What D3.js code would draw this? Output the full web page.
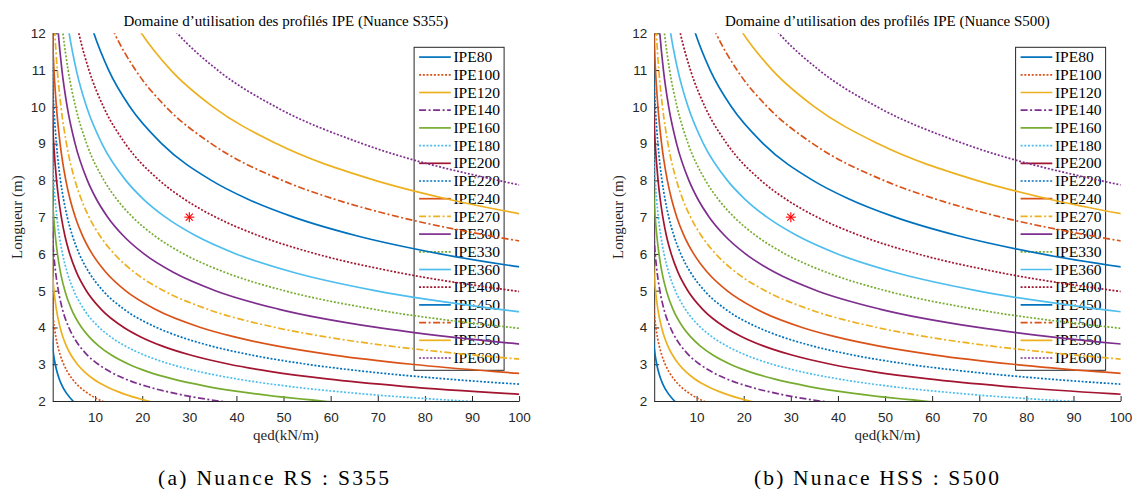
<!DOCTYPE html>
<html><head><meta charset="utf-8">
<script src="https://cdn.jsdelivr.net/npm/d3@7"></script>
<style>body{margin:0;background:#fff} svg{display:block}</style>
</head><body>
<svg id="c" width="1132" height="489"></svg>
<script>
// ---- data (both panels show the same curves) ----
const lengths = [1.9, 2, 2.2, 2.4, 2.6, 2.8, 3, 3.25, 3.5, 3.75, 4, 4.5, 5, 5.5, 6, 6.5, 7, 7.5, 8, 9, 10, 11, 12, 12.5];
const profiles = ["IPE80","IPE100","IPE120","IPE140","IPE160","IPE180","IPE200","IPE220","IPE240","IPE270","IPE300","IPE330","IPE360","IPE400","IPE450","IPE500","IPE550","IPE600"];
// q (kN/m) at which each profile reaches the length in `lengths`
const qIPE80  = [6.22, 5.32, 3.99, 3.06, 2.39, 1.90, 1.54, 1.20, 0.95, 0.76, null, null, null, null, null, null, null, null, null, null, null, null, null, null];
const qIPE100 = [13.32, 11.41, 8.55, 6.57, 5.15, 4.11, 3.33, 2.60, 2.07, 1.66, 1.36, 0.93, 0.66, null, null, null, null, null, null, null, null, null, null, null];
const qIPE120 = [24.82, 21.27, 15.95, 12.27, 9.62, 7.69, 6.23, 4.88, 3.89, 3.14, 2.57, 1.77, 1.27, 0.93, 0.69, null, null, null, null, null, null, null, null, null];
const qIPE140 = [42.28, 36.23, 27.19, 20.91, 16.42, 13.12, 10.65, 8.35, 6.66, 5.39, 4.42, 3.06, 2.20, 1.62, 1.22, 0.93, 0.72, null, null, null, null, null, null, null];
const qIPE160 = [67.96, 58.24, 43.72, 33.64, 26.43, 21.13, 17.15, 13.45, 10.74, 8.70, 7.14, 4.97, 3.58, 2.65, 2.01, 1.55, 1.21, 0.95, 0.76, null, null, null, null, null];
const qIPE180 = [103.0, 88.32, 66.31, 51.03, 40.10, 32.07, 26.04, 20.44, 16.33, 13.24, 10.88, 7.59, 5.48, 4.07, 3.09, 2.39, 1.88, 1.49, 1.20, 0.79, null, null, null, null];
const qIPE200 = [152.1, 130.35, 97.88, 75.34, 59.21, 47.36, 38.47, 30.21, 24.14, 19.59, 16.10, 11.24, 8.14, 6.06, 4.62, 3.58, 2.83, 2.26, 1.82, 1.21, 0.82, 0.56, null, null];
const qIPE220 = [217.0, 186.02, 139.7, 107.54, 84.53, 67.63, 54.94, 43.16, 34.50, 28.00, 23.03, 16.10, 11.67, 8.70, 6.64, 5.17, 4.09, 3.28, 2.65, 1.79, 1.23, 0.86, 0.61, null];
const qIPE240 = [304.7, 261.2, 196.2, 151.06, 118.75, 95.01, 77.19, 60.65, 48.50, 39.38, 32.39, 22.66, 16.44, 12.28, 9.39, 7.32, 5.80, 4.66, 3.79, 2.57, 1.79, 1.27, 0.91, 0.77];
const qIPE270 = [null, null, null, null, 176.7, 141.4, 114.93, 90.32, 72.25, 58.67, 48.28, 33.80, 24.55, 18.35, 14.06, 10.98, 8.72, 7.02, 5.72, 3.92, 2.76, 1.98, 1.45, 1.24];
const qIPE300 = [null, null, null, null, null, null, 166.0, 130.45, 104.36, 84.77, 69.78, 48.88, 35.52, 26.59, 20.38, 15.94, 12.68, 10.23, 8.36, 5.75, 4.08, 2.96, 2.19, 1.89];
const qIPE330 = [null, null, null, null, null, null, null, 183.8, 147.1, 119.5, 98.39, 68.96, 50.14, 37.55, 28.81, 22.56, 17.97, 14.52, 11.88, 8.20, 5.85, 4.27, 3.18, 2.76];
const qIPE360 = [null, null, null, null, null, null, null, null, 203.4, 165.3, 136.1, 95.43, 69.41, 52.01, 39.93, 31.29, 24.94, 20.17, 16.52, 11.44, 8.19, 6.01, 4.50, 3.92];
const qIPE400 = [null, null, null, null, null, null, null, null, null, null, 193.6, 135.8, 98.83, 74.09, 56.92, 44.63, 35.60, 28.82, 23.64, 16.41, 11.78, 8.69, 6.55, 5.72];
const qIPE450 = [null, null, null, null, null, null, null, null, null, null, null, 198.3, 144.3, 108.26, 83.22, 65.29, 52.12, 42.23, 34.67, 24.12, 17.38, 12.87, 9.74, 8.53];
const qIPE500 = [null, null, null, null, null, null, null, null, null, null, null, null, 206.4, 154.9, 119.1, 93.47, 74.66, 60.53, 49.72, 34.66, 25.02, 18.58, 14.11, 12.38];
const qIPE550 = [null, null, null, null, null, null, null, null, null, null, null, null, null, 215.8, 166.0, 130.35, 104.16, 84.49, 69.44, 48.46, 35.04, 26.07, 19.84, 17.44];
const qIPE600 = [null, null, null, null, null, null, null, null, null, null, null, null, null, null, 228.0, 179.1, 143.1, 116.1, 95.49, 66.71, 48.31, 35.99, 27.45, 24.15];
const seriesQ = [qIPE80,qIPE100,qIPE120,qIPE140,qIPE160,qIPE180,qIPE200,qIPE220,qIPE240,qIPE270,qIPE300,qIPE330,qIPE360,qIPE400,qIPE450,qIPE500,qIPE550,qIPE600];
const pointQ = [30];
const pointL = [7];
const xTicks = [10, 20, 30, 40, 50, 60, 70, 80, 90, 100];
const yTicks = [2, 3, 4, 5, 6, 7, 8, 9, 10, 11, 12];
const titles = ["Domaine d’utilisation des profilés IPE (Nuance S355)", "Domaine d’utilisation des profilés IPE (Nuance S500)"];
const captions = ["(a) Nuance RS : S355", "(b) Nunace HSS : S500"];
const xLabel = "qed(kN/m)";
const yLabel = "Longueur (m)";

// ---- styles ----
const colors = ["#0072BD","#D95319","#EDB120","#7E2F8E","#77AC30","#4DBEEE","#A2142F","#0072BD","#D95319","#EDB120","#7E2F8E","#77AC30","#4DBEEE","#A2142F","#0072BD","#D95319","#EDB120","#7E2F8E"];
const DOT = "2,1.7", DD = "7,2.5,2,2.5";
const dashes = [null, DOT, null, DD, null, DOT, null, DOT, null, DD, null, DOT, null, DOT, null, DD, null, DOT];
const SERIF = "'Liberation Serif','Times New Roman',serif";
const SANS = "'Liberation Sans',Arial,sans-serif";
const AX = "#262626";

const svg = d3.select("#c");
const lefts = [52.7, 654.2];
const topY = 33.3, W = 466.4, H = 367.7;
const capX = [158, 754], capW = [231, 245];

lefts.forEach((left, pi) => {
  const g = svg.append("g").attr("transform", `translate(${left},${topY})`);
  const x = d3.scaleLinear().domain([1, 100]).range([0, W]);
  const y = d3.scaleLinear().domain([2, 12]).range([H, 0]);
  const clipId = "clip" + pi;
  svg.append("clipPath").attr("id", clipId).append("rect")
    .attr("x", left).attr("y", topY).attr("width", W).attr("height", H);

  const curves = svg.append("g").attr("clip-path", `url(#${clipId})`)
    .append("g").attr("transform", `translate(${left},${topY})`);
  const line = d3.line().x(d => x(d[0])).y(d => y(d[1])).curve(d3.curveMonotoneX);
  seriesQ.forEach((qs, si) => {
    const pts = lengths.map((L, k) => [qs[k], L]).filter(d => d[0] != null).sort((a, b) => a[0] - b[0]);
    curves.append("path").attr("d", line(pts)).attr("fill", "none")
      .attr("stroke", colors[si]).attr("stroke-width", 1.7)
      .attr("stroke-dasharray", dashes[si]);
  });

  // axes
  const xa = g.append("g").attr("transform", `translate(0,${H})`)
    .call(d3.axisBottom(x).tickValues(xTicks).tickSizeInner(-5).tickSizeOuter(0).tickPadding(11));
  const ya = g.append("g")
    .call(d3.axisLeft(y).tickValues(yTicks).tickSizeInner(-5).tickSizeOuter(0).tickPadding(7));
  [xa, ya].forEach(a => {
    a.selectAll("path,line").attr("stroke", AX).attr("stroke-width", 1);
    a.selectAll("text").attr("fill", AX).style("font-family", SANS).style("font-size", "13.5px");
  });

  // star marker
  const st = g.append("g").attr("transform", `translate(${x(pointQ[0])},${y(pointL[0])})`);
  [0, 45, 90, 135].forEach(a => {
    const r = a * Math.PI / 180, s = 5;
    st.append("line").attr("x1", -s * Math.cos(r)).attr("y1", -s * Math.sin(r))
      .attr("x2", s * Math.cos(r)).attr("y2", s * Math.sin(r))
      .attr("stroke", "#FF0000").attr("stroke-width", 1.1);
  });

  // legend
  const lw = 90, lh = 323;
  const lg = g.append("g").attr("transform", `translate(${W - 15 - lw},14)`);
  lg.append("rect").attr("width", lw).attr("height", lh).attr("fill", "#fff")
    .attr("stroke", AX).attr("stroke-width", 1);
  profiles.forEach((p, si) => {
    const cy = 9.8 + si * 17.7;
    lg.append("line").attr("x1", 5).attr("x2", 36.7).attr("y1", cy).attr("y2", cy)
      .attr("stroke", colors[si]).attr("stroke-width", 1.7).attr("stroke-dasharray", dashes[si]);
    lg.append("text").attr("x", 39.3).attr("y", cy + 5.2).text(p)
      .style("font-family", SERIF).style("font-size", "15.5px").attr("fill", "#000");
  });

  // title & labels
  g.append("text").attr("x", W / 2).attr("y", -7).attr("text-anchor", "middle").text(titles[pi])
    .style("font-family", SERIF).style("font-size", "15px").attr("fill", "#000");
  g.append("text").attr("x", W / 2).attr("y", H + 39).attr("text-anchor", "middle").text(xLabel)
    .style("font-family", SERIF).style("font-size", "15px").attr("fill", AX);
  g.append("text").attr("transform", `translate(-31,${H / 2}) rotate(-90)`)
    .attr("text-anchor", "middle").text(yLabel)
    .style("font-family", SERIF).style("font-size", "15px").attr("fill", AX);

  // caption
  svg.append("text").attr("x", capX[pi]).attr("y", 485).text(captions[pi])
    .attr("textLength", capW[pi]).attr("lengthAdjust", "spacing")
    .style("font-family", SERIF).style("font-size", "21.5px").attr("fill", "#000");
});
</script>
</body></html>
